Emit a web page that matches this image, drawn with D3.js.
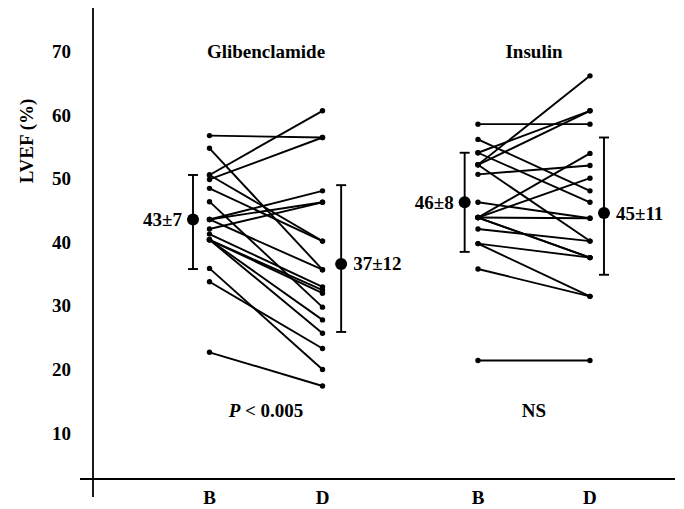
<!DOCTYPE html>
<html><head><meta charset="utf-8">
<script src="https://cdn.jsdelivr.net/npm/d3@7"></script>
<style>
html,body{margin:0;padding:0;background:#fff;}
text{font-family:"Liberation Serif","Times New Roman",serif;font-weight:bold;fill:#000;}
</style></head>
<body><svg id="c" width="684" height="509"></svg>
<script>
// ---- data ----
const groupNames = ["Glibenclamide", "Insulin"];
const timeLabels = ["B", "D", "B", "D"];
const yTicks = [10, 20, 30, 40, 50, 60, 70];
const glibBefore = [56.8, 54.8, 50.6, 50.6, 49.9, 48.5, 46.4, 43.6, 43.6, 43.6, 42.1, 41.3, 40.4, 40.4, 40.4, 40.4, 35.9, 33.8, 22.7];
const glibAfter  = [56.5, 35.7, 60.7, 40.2, 56.5, 40.2, 29.8, 48.1, 46.3, 35.7, 46.3, 33.0, 32.5, 32.0, 27.8, 25.7, 20.0, 23.3, 17.4];
const insBefore  = [58.6, 56.2, 54.1, 54.1, 52.2, 52.2, 52.2, 50.7, 46.3, 43.9, 43.9, 43.9, 43.9, 43.9, 42.1, 39.8, 39.8, 35.8, 21.4];
const insAfter   = [58.6, 48.1, 60.7, 46.3, 66.2, 60.7, 40.2, 52.1, 43.8, 54.0, 50.1, 43.8, 37.6, 37.6, 40.2, 37.6, 31.5, 31.5, 21.4];
const meanValues = [43.6, 36.6, 46.3, 44.6];
const sdLow      = [35.8, 25.9, 38.5, 34.9];
const sdHigh     = [50.6, 49.0, 54.1, 56.5];
const meanLabels = ["43±7", "37±12", "46±8", "45±11"];
const pLabels    = ["P < 0.005", "NS"];
const yLabel = "LVEF (%)";

// ---- layout ----
const svg = d3.select("#c");
const y = d3.scaleLinear().domain([10, 70]).range([433, 51.7]);
// column positions: 0 = Glib B, 1 = Glib D, 2 = Ins B, 3 = Ins D
const colPos = [0, 1, 2.376, 3.367];
const x = d3.scaleLinear().domain([0, 1]).range([209.5, 322.5]);
const barOffset = [-0.146, 0.165, -0.118, 0.124];
const axisX = 93, axisY = 479;
const FS = 19;

// axes
svg.append("line").attr("x1", axisX).attr("x2", axisX).attr("y1", 8).attr("y2", 497)
  .attr("stroke", "#000").attr("stroke-width", 1.8);
svg.append("line").attr("x1", 80).attr("x2", 675).attr("y1", axisY).attr("y2", axisY)
  .attr("stroke", "#000").attr("stroke-width", 1.8);

svg.selectAll(".ytick").data(yTicks).enter().append("text")
  .attr("x", 71).attr("y", d => y(d)).attr("text-anchor", "end")
  .attr("dominant-baseline", "central").attr("font-size", FS).text(d => d);

svg.append("text").attr("transform", `translate(26,${141}) rotate(-90)`)
  .attr("text-anchor", "middle").attr("dominant-baseline", "central")
  .attr("font-size", FS).text(yLabel);

svg.selectAll(".xl").data(timeLabels).enter().append("text")
  .attr("x", (d, i) => x(colPos[i])).attr("y", 497).attr("text-anchor", "middle")
  .attr("dominant-baseline", "central").attr("font-size", FS).text(d => d);

// titles
svg.selectAll(".title").data(groupNames).enter().append("text")
  .attr("x", (d, i) => (x(colPos[2 * i]) + x(colPos[2 * i + 1])) / 2)
  .attr("y", 51).attr("text-anchor", "middle").attr("dominant-baseline", "central")
  .attr("font-size", FS).text(d => d);

// paired lines
const pairs = [
  {b: glibBefore, a: glibAfter, c0: 0, c1: 1},
  {b: insBefore, a: insAfter, c0: 2, c1: 3}
];
pairs.forEach(p => {
  const g = svg.append("g");
  p.b.forEach((v, i) => {
    g.append("line").attr("x1", x(colPos[p.c0])).attr("y1", y(v))
      .attr("x2", x(colPos[p.c1])).attr("y2", y(p.a[i]))
      .attr("stroke", "#000").attr("stroke-width", 1.9);
  });
  p.b.forEach(v => g.append("circle").attr("cx", x(colPos[p.c0])).attr("cy", y(v)).attr("r", 2.7));
  p.a.forEach(v => g.append("circle").attr("cx", x(colPos[p.c1])).attr("cy", y(v)).attr("r", 2.7));
});

// mean ± SD
meanValues.forEach((m, i) => {
  const cx = x(colPos[i] + barOffset[i]);
  const g = svg.append("g");
  g.append("line").attr("x1", cx).attr("x2", cx).attr("y1", y(sdHigh[i])).attr("y2", y(sdLow[i]))
    .attr("stroke", "#000").attr("stroke-width", 1.9);
  [sdHigh[i], sdLow[i]].forEach(v => g.append("line").attr("x1", cx - 5).attr("x2", cx + 5)
    .attr("y1", y(v)).attr("y2", y(v)).attr("stroke", "#000").attr("stroke-width", 1.9));
  g.append("circle").attr("cx", cx).attr("cy", y(m)).attr("r", 6);
  const left = i % 2 === 0;
  g.append("text").attr("x", left ? cx - 11 : cx + 12).attr("y", y(m))
    .attr("text-anchor", left ? "end" : "start").attr("dominant-baseline", "central")
    .attr("font-size", FS).text(meanLabels[i]);
});

// p-value labels
pLabels.forEach((t, i) => {
  const tx = svg.append("text").attr("x", (x(colPos[2 * i]) + x(colPos[2 * i + 1])) / 2)
    .attr("y", 410).attr("text-anchor", "middle").attr("dominant-baseline", "central")
    .attr("font-size", FS);
  if (t.startsWith("P")) {
    tx.append("tspan").attr("font-style", "italic").text("P");
    tx.append("tspan").text(t.slice(1));
  } else tx.text(t);
});
</script></body></html>
